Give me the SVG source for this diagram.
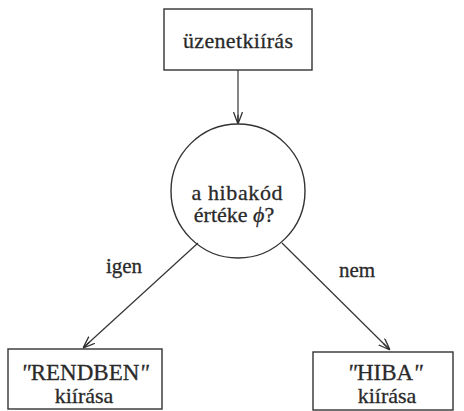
<svg xmlns="http://www.w3.org/2000/svg" width="464" height="411" viewBox="0 0 464 411">
<style>
.box{fill:none;stroke:#333;stroke-width:1.4}
.ln{fill:none;stroke:#333;stroke-width:1.2}
</style>
<defs>
<marker id="arr" viewBox="0 0 12 10" refX="12" refY="5" markerWidth="12" markerHeight="10" markerUnits="userSpaceOnUse" orient="auto">
<path d="M0,0.5 L12,5 L0,9.5 M3,5 L12,5" fill="none" stroke="#333" stroke-width="1.3"/>
</marker>
</defs>
<rect width="464" height="411" fill="#ffffff"/>
<g id="connectors">
<line class="ln" x1="238" y1="70" x2="238" y2="124" marker-end="url(#arr)"/>
<line class="ln" x1="198" y1="243" x2="83" y2="348" marker-end="url(#arr)"/>
<line class="ln" x1="282" y1="243" x2="390" y2="350" marker-end="url(#arr)"/>
<text font-family="Liberation Serif" font-size="21" fill="#2a2a2a" stroke="#2a2a2a" stroke-width="0.3" text-anchor="middle" x="124" y="273">igen</text>
<text font-family="Liberation Serif" font-size="21" fill="#2a2a2a" stroke="#2a2a2a" stroke-width="0.3" text-anchor="middle" x="357" y="277">nem</text>
</g>
<g id="uzenetkiiras">
<rect class="box" x="164" y="9" width="148" height="61"/>
<text font-family="Liberation Serif" font-size="22" fill="#2a2a2a" stroke="#2a2a2a" stroke-width="0.3" text-anchor="middle" x="238" y="48" textLength="110">üzenetkiírás</text>
</g>
<g id="hibakod">
<circle class="box" cx="238" cy="191" r="67"/>
<text font-family="Liberation Serif" font-size="22" fill="#2a2a2a" stroke="#2a2a2a" stroke-width="0.3" text-anchor="middle" x="237" y="200" textLength="91">a hibakód</text>
<text font-family="Liberation Serif" font-size="22" fill="#2a2a2a" stroke="#2a2a2a" stroke-width="0.3" text-anchor="middle" x="234" y="222">értéke <tspan font-style="italic">ϕ</tspan>?</text>
</g>
<g id="rendben">
<rect class="box" x="8" y="349" width="154" height="60"/>
<text font-family="Liberation Serif" font-size="23" fill="#2a2a2a" stroke="#2a2a2a" stroke-width="0.3" text-anchor="middle" x="85" y="380"><tspan font-style="italic">"</tspan>RENDBEN<tspan font-style="italic">"</tspan></text>
<text font-family="Liberation Serif" font-size="22" fill="#2a2a2a" stroke="#2a2a2a" stroke-width="0.3" text-anchor="middle" x="84" y="403">kiírása</text>
</g>
<g id="hiba">
<rect class="box" x="313" y="352" width="140" height="58"/>
<text font-family="Liberation Serif" font-size="23" fill="#2a2a2a" stroke="#2a2a2a" stroke-width="0.3" text-anchor="middle" x="385" y="380"><tspan font-style="italic">"</tspan>HIBA<tspan font-style="italic">"</tspan></text>
<text font-family="Liberation Serif" font-size="22" fill="#2a2a2a" stroke="#2a2a2a" stroke-width="0.3" text-anchor="middle" x="387" y="403">kiírása</text>
</g>
</svg>
